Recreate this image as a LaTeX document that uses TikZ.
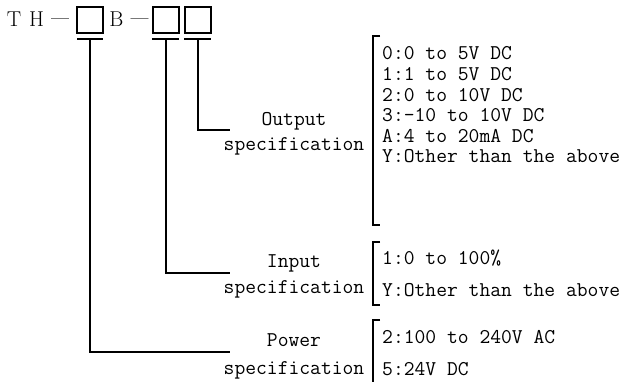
\documentclass[tikz,border=0pt]{standalone}
\usepackage{fontspec}
\begin{document}
\begin{tikzpicture}[x=1pt,y=-1pt,
  codebox/.style={draw, line width=1.4pt, minimum size=26pt, inner sep=0pt},
  ln/.style={line width=1.2pt},
  brk/.style={line width=1.2pt},
  lab/.style={font=\fontsize{21}{26}\ttfamily, anchor=base, inner sep=0pt},
  itemtxt/.style={font=\fontsize{21}{26}\ttfamily, anchor=base west, inner sep=0pt},
  rmtxt/.style={font=\fontsize{21.5}{24}\rmfamily, anchor=base, inner sep=0pt}]
\useasboundingbox (0,0) rectangle (638,382);
% top model code
\node[rmtxt] (t) at (14,27) {T};
\node[rmtxt] (h) at (36.5,27) {H};
\node[rmtxt] (d1) at (60,27) {\raisebox{3pt}{\fontsize{16}{20}\bfseries —}};
\node[codebox] (b1) at (90,20) {};
\node[rmtxt] (bb) at (116.5,27) {B};
\node[rmtxt] (d2) at (139.5,27) {\raisebox{3pt}{\fontsize{16}{20}\bfseries —}};
\node[codebox] (b2) at (166,20) {};
\node[codebox] (b3) at (198,20) {};
% bars under boxes
\draw[ln] (77,39) -- (103,39);
\draw[ln] (152,39) -- (179,39);
\draw[ln] (184,39) -- (211,39);
\coordinate (c1) at (90,39);
\coordinate (c2) at (166,39);
\coordinate (c3) at (198,39);
% labels
\node[lab] (out1) at (294,125.5) {Output};
\node[lab] (out2) at (294,151) {specification};
\node[lab] (in1) at (294,267.5) {Input};
\node[lab] (in2) at (294,294) {specification};
\node[lab] (pw1) at (294,346.5) {Power};
\node[lab] (pw2) at (294,374) {specification};
\coordinate (eo) at (230,130);
\coordinate (ei) at (230,273);
\coordinate (ep) at (230,352);
% connectors
\draw[ln] (c3) |- (eo);
\draw[ln] (c2) |- (ei);
\draw[ln] (c1) |- (ep);
% brackets
\draw[brk] (380,36) -- (373,36) -- (373,225) -- (380,225);
\draw[brk] (380,242) -- (373,242) -- (373,305) -- (380,305);
\draw[brk] (380,320) -- (373,320) -- (373,382);
% items
\node[itemtxt] (o1) at (382,60) {0:0 to 5V DC};
\node[itemtxt] (o2) at (382,81) {1:1 to 5V DC};
\node[itemtxt] (o3) at (382,101.5) {2:0 to 10V DC};
\node[itemtxt] (o4) at (382,122) {3:-10 to 10V DC};
\node[itemtxt] (o5) at (382,143) {A:4 to 20mA DC};
\node[itemtxt] (o6) at (382,163) {Y:Other than the above};
\node[itemtxt] (i1) at (382,264.5) {1:0 to 100\%};
\node[itemtxt] (i2) at (382,296.5) {Y:Other than the above};
\node[itemtxt] (p1) at (382,343.5) {2:100 to 240V AC};
\node[itemtxt] (p2) at (382,375.5) {5:24V DC};
\end{tikzpicture}
\end{document}
